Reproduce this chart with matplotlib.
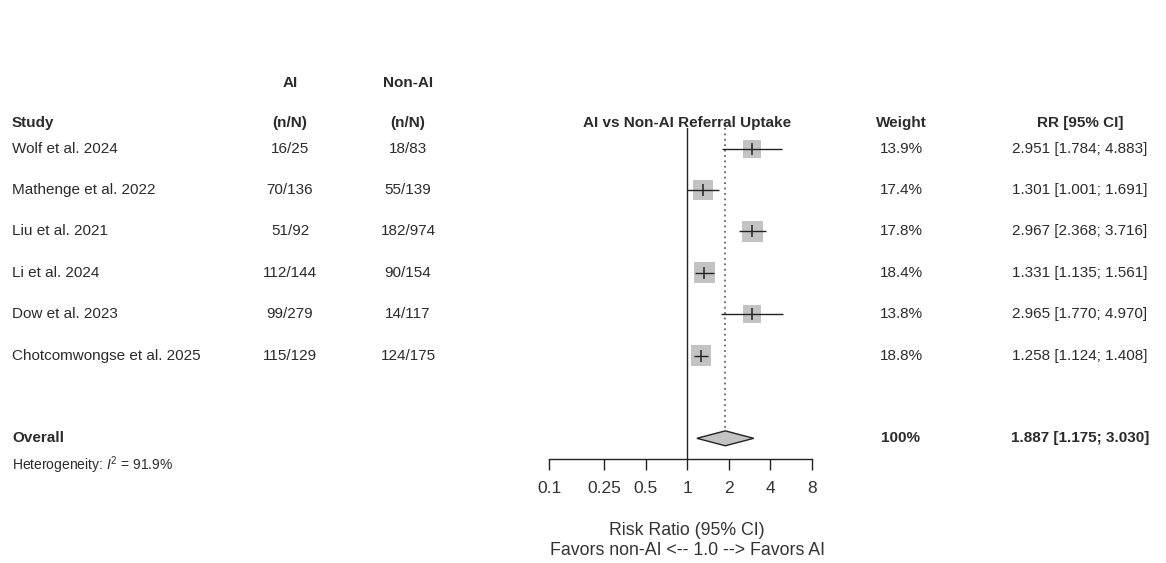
import matplotlib
matplotlib.use("Agg")
import matplotlib.pyplot as plt
from matplotlib.transforms import blended_transform_factory
from matplotlib.patches import Polygon

plt.rcParams['font.family'] = ['Liberation Sans', 'DejaVu Sans']
plt.rcParams['mathtext.fontset'] = 'custom'
plt.rcParams['mathtext.rm'] = 'Liberation Sans'
plt.rcParams['mathtext.it'] = 'Liberation Sans:italic'

## data
studies = ["Wolf et al. 2024", "Mathenge et al. 2022", "Liu et al. 2021",
           "Li et al. 2024", "Dow et al. 2023", "Chotcomwongse et al. 2025"]
ai_n = [16, 70, 51, 112, 99, 115]
ai_N = [25, 136, 92, 144, 279, 129]
non_n = [18, 55, 182, 90, 14, 124]
non_N = [83, 139, 974, 154, 117, 175]
rr = [2.951, 1.301, 2.967, 1.331, 2.965, 1.258]
rr_lo = [1.784, 1.001, 2.368, 1.135, 1.770, 1.124]
rr_hi = [4.883, 1.691, 3.716, 1.561, 4.970, 1.408]
weight = [13.9, 17.4, 17.8, 18.4, 13.8, 18.8]
overall = (1.887, 1.175, 3.030)
i2 = 91.9
xticks = [0.1, 0.25, 0.5, 1, 2, 4, 8]
xticklabels = ["0.1", "0.25", "0.5", "1", "2", "4", "8"]

W, H = 1166, 563
fig = plt.figure(figsize=(W / 100, H / 100), dpi=100)
# forest panel: x 549..812 px, y 128..459 px
ax = fig.add_axes([549 / W, 1 - 459 / H, 263 / W, 331 / H])
ax.set_xscale('log', base=2)
ax.set_xlim(0.1, 8)
ax.set_ylim(7.5, -0.5)

rows = list(range(len(studies)))
row_overall = 7

# squares, CIs on top, estimate ticks
ax.scatter(rr, rows, marker='s', s=[w * 12 for w in weight],
           color='#c3c3c3', edgecolors='none', zorder=2)
ax.hlines(rows, rr_lo, rr_hi, color='#222222', lw=1.0, zorder=3)
ax.plot(rr, rows, linestyle='none', marker='|', markersize=8,
        markeredgewidth=1.1, color='#222222', zorder=4)

# overall diamond
dh = 0.18
est, lo, hi = overall
ax.add_patch(Polygon([(lo, row_overall), (est, row_overall - dh),
                      (hi, row_overall), (est, row_overall + dh)],
                     closed=True, facecolor='#c3c3c3', edgecolor='#222222',
                     lw=1.0, zorder=3))

# reference lines
ax.axvline(1, color='#222222', lw=1.0, zorder=1)
ax.vlines(est, -0.5, row_overall - dh, color='#666666', lw=1.3,
          linestyles=(0, (1, 2)), zorder=1)

for s in ['left', 'top', 'right']:
    ax.spines[s].set_visible(False)
ax.spines['bottom'].set_linewidth(1.0)
ax.spines['bottom'].set_color('#222222')
ax.set_yticks([])
ax.set_xticks(xticks)
ax.set_xticklabels(xticklabels, fontsize=12.5, color='#333333')
ax.minorticks_off()
ax.tick_params(axis='x', direction='out', length=8, width=1.0,
               color='#222222', pad=8)

ax.text(1, 9.23, "Risk Ratio (95% CI)", ha='center', va='center',
        fontsize=12.8, color='#333333')
ax.text(1, 9.71, "Favors non-AI <-- 1.0 --> Favors AI", ha='center',
        va='center', fontsize=12.8, color='#333333')

# table text
tr = blended_transform_factory(fig.transFigure, ax.transData)
col_study, col_ai, col_non = 12 / W, 290 / W, 408 / W
col_title, col_w, col_rr = 687 / W, 901 / W, 1080 / W
fs = 11
tc = '#2b2b2b'

def put(x, y, s, ha='center', bold=False, size=fs):
    ax.text(x, y, s, transform=tr, ha=ha, va='center', fontsize=size,
            color=tc, fontweight='bold' if bold else 'normal')

put(col_ai, -1.59, "AI", bold=True)
put(col_non, -1.59, "Non-AI", bold=True)
put(col_study, -0.63, "Study", ha='left', bold=True)
put(col_ai, -0.63, "(n/N)", bold=True)
put(col_non, -0.63, "(n/N)", bold=True)
put(col_title, -0.63, "AI vs Non-AI Referral Uptake", bold=True)
put(col_w, -0.63, "Weight", bold=True)
put(col_rr, -0.63, "RR [95% CI]", bold=True)

for i, name in enumerate(studies):
    put(col_study, i, name, ha='left')
    put(col_ai, i, f"{ai_n[i]}/{ai_N[i]}")
    put(col_non, i, f"{non_n[i]}/{non_N[i]}")
    put(col_w, i, f"{weight[i]:.1f}%")
    put(col_rr, i, f"{rr[i]:.3f} [{rr_lo[i]:.3f}; {rr_hi[i]:.3f}]")

put(col_study, row_overall, "Overall", ha='left', bold=True)
put(col_w, row_overall, "100%", bold=True)
put(col_rr, row_overall, f"{est:.3f} [{lo:.3f}; {hi:.3f}]", bold=True)
put(col_study, 7.66, f"Heterogeneity: $I^2$ = {i2}%", ha='left', size=10)

fig.savefig("out.png", dpi=100, facecolor='white')
